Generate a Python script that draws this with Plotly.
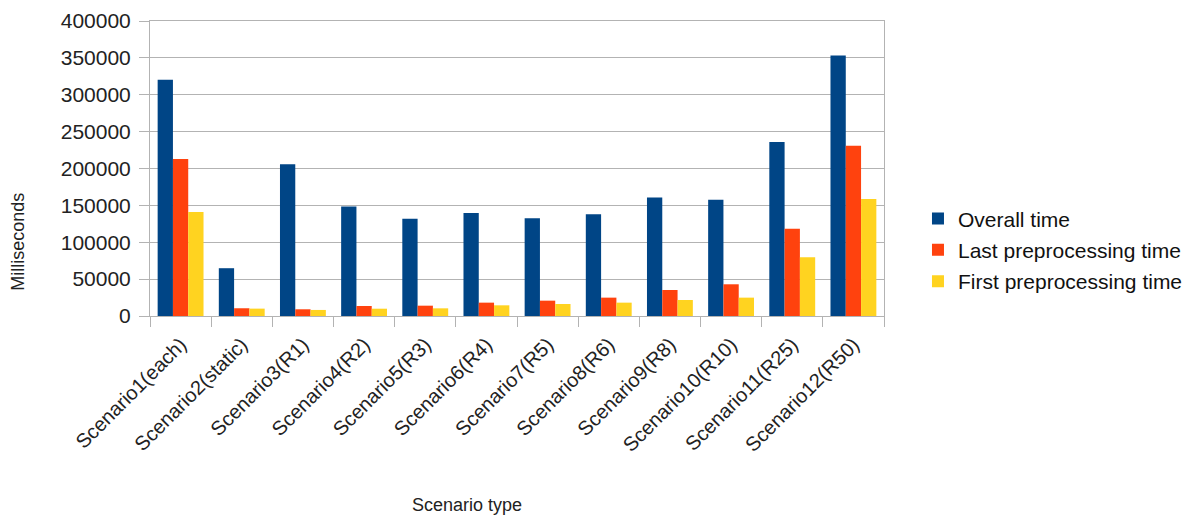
import plotly.graph_objects as go

categories = [
    "Scenario1(each)", "Scenario2(static)", "Scenario3(R1)", "Scenario4(R2)",
    "Scenario5(R3)", "Scenario6(R4)", "Scenario7(R5)", "Scenario8(R6)",
    "Scenario9(R8)", "Scenario10(R10)", "Scenario11(R25)", "Scenario12(R50)",
]
overall_time = [320500, 64800, 205600, 148500, 131800, 139500,
                132700, 138100, 160700, 157600, 236000, 353300]
last_preprocessing = [212900, 10500, 9100, 13600, 14000, 18100,
                      20800, 24900, 35300, 43000, 118200, 231000]
first_preprocessing = [140900, 10000, 8200, 9900, 10400, 14500,
                       16300, 18100, 21700, 24900, 79700, 158500]
y_ticks = [0, 50000, 100000, 150000, 200000, 250000, 300000, 350000, 400000]

FONT = "Liberation Sans, Arial, sans-serif"
GRID = "#b3b3b3"

series = [
    ("Overall time", overall_time, "#004586"),
    ("Last preprocessing time", last_preprocessing, "#ff420e"),
    ("First preprocessing time", first_preprocessing, "#ffd320"),
]

fig = go.Figure()
for i, (name, values, color) in enumerate(series):
    fig.add_trace(go.Bar(
        x=categories, y=values, name=name, marker_color=color,
        marker_line_width=0, legendgroup=f"g{i}",
    ))

fig.update_layout(
    width=1195, height=518,
    margin=dict(l=150, r=311, t=21, b=202, autoexpand=False),
    paper_bgcolor="white", plot_bgcolor="white",
    barmode="group", bargap=0.25, bargroupgap=0,
    font=dict(family=FONT, color="#222222", size=20),
    showlegend=True,
    legend=dict(
        x=1.0463, xanchor="left", y=0.224, yanchor="middle",
        font=dict(size=21, color="#111111"),
        traceorder="grouped", tracegroupgap=1,
        bgcolor="rgba(0,0,0,0)",
    ),
    xaxis=dict(
        type="category", showline=True, linecolor=GRID, linewidth=1,
        ticks="outside", tickson="boundaries", ticklen=10, tickcolor=GRID,
        tickangle=-45, tickfont=dict(size=20, color="#222222"),
        ticklabelstandoff=8, showgrid=False, mirror=True,
    ),
    yaxis=dict(
        range=[0, 400000], tickvals=y_ticks, tickformat="d",
        showline=True, linecolor=GRID, linewidth=1, mirror=True,
        ticks="outside", ticklen=10, tickcolor=GRID,
        gridcolor=GRID, gridwidth=1, zeroline=False,
        tickfont=dict(size=21, color="#222222"), ticklabelstandoff=4,
    ),
    annotations=[
        dict(text="Milliseconds", xref="paper", yref="paper",
             x=-0.179, y=0.25, xanchor="center", yanchor="middle",
             textangle=-90, showarrow=False,
             font=dict(size=18, color="#222222")),
        dict(text="Scenario type", xref="paper", yref="paper",
             x=0.354, y=-0.64, xanchor="left", yanchor="middle",
             showarrow=False, font=dict(size=18, color="#222222")),
    ],
)

fig.write_html("out.html")
